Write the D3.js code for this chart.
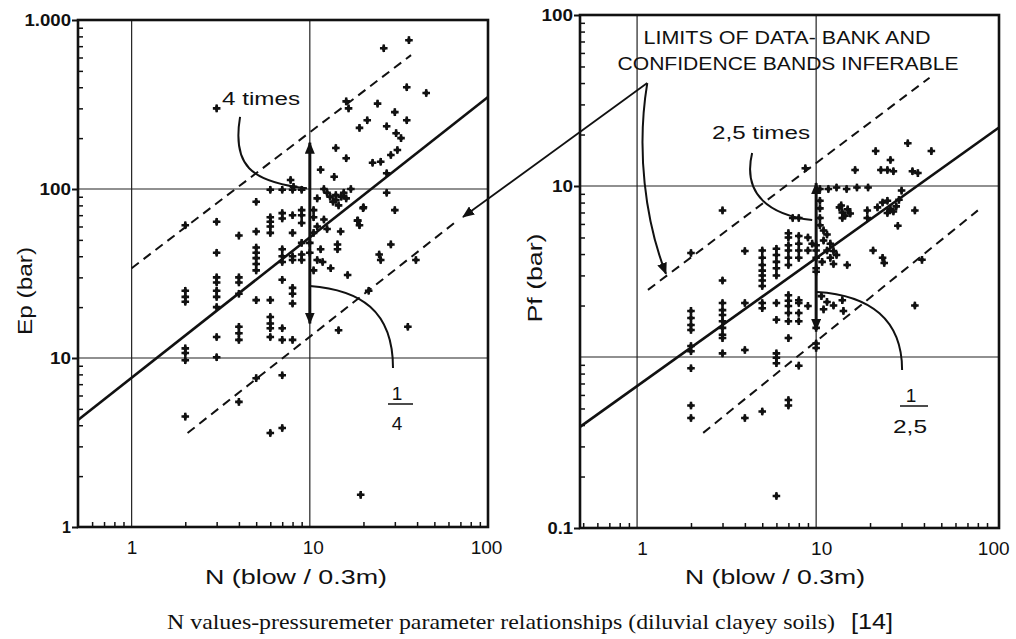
<!DOCTYPE html>
<html><head><meta charset="utf-8">
<script src="https://cdn.jsdelivr.net/npm/d3@7"></script>
<style>body{margin:0;background:#fff}</style>
</head><body>
<script>
// ---------- DATA ----------
const nTicks = [1, 10, 100];
const nTickLabels = ["1", "10", "100"];
const epTicks = [1, 10, 100, 1000];
const epTickLabels = ["1", "10", "100", "1.000"];
const pfTicks = [0.1, 10, 100];
const pfTickLabels = ["0.1", "10", "100"];
const nGrid = [1, 10];
const epGrid = [10, 100];
const pfGrid = [1, 10];

// N (blow/0.3m), Ep (bar)
const epPoints = [
[3,300],[26,680],[36,760],[35,400],[45,370],[16,330],[16.5,300],[24,320],[30,285],[35,255],[21,255],[19,230],[27,235],[30.5,214],[32.5,200],[14,175],[16,152],[22.5,143],[25,145],[28.5,159],[31,170],[11.5,130],[13.7,118],[27,124],[7.8,113],[8.1,103],[6,99],[7,99],[8,99],[9,99],[5,84],[27,95],[30,75],[20,78],[18.5,65],[19,61],
[12.5,95],[13,90],[14,92],[14,86],[15,90],[15.5,95],[16,88],[13.5,84],[17,100],[12,100],[11,88],[14.5,80],
[10.5,75],[10.5,68],[11,60],[10.5,55],[11.5,44],[11,38],[10.5,33],[12,66],[12.5,58],[10,48],[10,42],
[2,61],[2,25],[2,23],[2,21.5],[2,11.4],[2,10.7],[2,9.7],[2,4.5],
[3,64],[3,42],[3,30],[3,28],[3,25],[3,23],[3,20],[3,13.3],[3,10.1],
[4,53],[4,30],[4,28],[4,24],[4,15.3],[4,14],[4,12.8],[4,5.5],
[5,56],[5,45],[5,42],[5,39],[5,36],[5,33],[5,22],[5,7.6],
[6,68],[6,64],[6,60],[6,55],[6,22],[6,17.5],[6,16],[6,15],[6,13.3],[6,3.6],
[7,72],[7,67],[7,44],[7,40],[7,37],[7,29],[7,15],[7,12.8],[7,7.9],[7,3.85],
[8,70],[8,55],[8,40],[8,38],[8,26],[8,24],[8,21],[8,12.8],
[9,75],[9,70],[9,63],[9,48],[9,41],[9,38],
[14.9,56],[14.3,47],[14.3,44],[16.3,31],[13.1,34],[11.8,37],[18.6,65],[19.9,77],[28.5,47],[24.5,41],[25,38],[39.4,38],[21.4,25],[14.5,14.6],[35.5,15.3],[19.3,1.55]
];

// N (blow/0.3m), Pf (bar)
const pfPoints = [
[3,7.2],[3,2.8],[2,4.06],[4,4.17],
[5,4.2],[5,3.8],[5,3.45],[5,3.2],[5,3.0],[5,2.8],[5,2.6],[5,2.07],[5,1.93],[5,0.48],
[6,4.3],[6,3.95],[6,3.6],[6,3.3],[6,3.0],[6,2.07],[6,1.65],[6,1.05],[6,0.99],[6,0.92],[6,0.154],
[7,5.3],[7,5.0],[7,4.5],[7,4.2],[7,3.8],[7,3.45],[7,2.3],[7,2.13],[7,1.99],[7,1.81],[7,1.62],[7,1.29],[7,0.56],[7,0.52],
[8,6.5],[8,5.1],[8,4.6],[8,4.2],[8,3.8],[8,2.15],[8,2.07],[8,1.81],[8,1.62],[8,0.89],
[9,5.0],[9,4.2],[9,1.99],[8.7,12.7],[7.4,6.5],
[10.5,8.2],[10.5,7.4],[10.5,6.5],[10.5,5.9],[10,4.5],[10,4.2],[10,3.8],[10,3.3],[10,3.15],[10,1.48],[10,1.2],[10,1.13],
[10.5,9.6],[11.7,9.6],[13,9.8],[14.8,9.6],[16.9,9.8],[19.5,9.8],
[13.5,7.5],[14,7.0],[14.5,6.7],[15,7.3],[15.5,6.9],[14,6.5],[13.8,7.7],[19.3,7.2],[19.3,6.5],
[22,7.5],[23.5,8.0],[25,8.2],[26,7.3],[27,7.1],[28,7.6],[29,8.3],[30,9.4],[35.6,7.2],[28.6,5.85],[25,6.95],[20.8,4.2],[23.5,3.8],[24,3.55],[39,3.7],[14.9,3.45],[11.5,4.2],[12.5,4.17],[13,3.95],[12,3.8],
[16.5,12.4],[21.5,16],[26,14.2],[32.5,17.8],[44,16],[23,12.4],[25,12.4],[27,12.2],[34.5,12.2],[37,11.9],
[2,1.86],[2,1.69],[2,1.54],[2,1.44],[2,1.16],[2,1.08],[2,0.86],[2,0.52],[2,0.44],
[3,2.07],[3,1.88],[3,1.76],[3,1.62],[3,1.48],[3,1.35],[3,1.29],[3,1.05],
[4,2.07],[4,1.1],[4,0.44],
[10.7,2.27],[11.5,2.1],[11,1.9],[12.5,2.0],[14,2.15],[14.2,1.86],[35.6,2.0],
[11,4.8],[11.5,5.2],[12,4.6],[9.5,4.6],[10.8,3.6],[12.5,3.5],[11,5.5]
];

// regression lines and confidence bands (end points)
const epFit = [[0.5,4.3],[100,350]];
const epUpper = [[1,34],[37,620]];
const epLower = [[2.06,3.6],[66,64]];
const pfFit = [[0.48,0.39],[105,22]];
const pfUpper = [[1.15,2.47],[43,43]];
const pfLower = [[2.34,0.36],[80,7.2]];

// vertical spread arrows [N, low, high]
const epArrow = [10, 16, 188];
const pfArrow = [10, 1.44, 10.4];

// annotation curves (cubic Bezier control points, data coords)
const epTimesCurve = [[4.06,267],[3.66,139],[4.62,110],[9.64,101]];
const epQuarterCurve = [[10,26.7],[19.1,25.3],[29.3,19.2],[29.3,8.73]];
const pfTimesCurve = [[4.39,15.6],[3.86,8.86],[5.53,6.77],[9.5,6.32]];
const pfFracCurve = [[10.1,2.4],[20,2.3],[30.2,1.65],[30.2,0.84]];
const limitsOrigin = [1.14,40];            // right panel
const limitsTargetLeft = [72.4,68.3];      // left panel
const limitsCurve = [[1.14,40],[0.99,16.3],[1.108,6.32],[1.45,3.06]]; // right panel

// ---------- DRAW ----------
const W = 1016, H = 639;
const FONT = "'Liberation Sans', Arial, sans-serif";
const svg = d3.select("body").append("svg").attr("width", W).attr("height", H)
  .style("font-family", FONT);
svg.append("rect").attr("width", W).attr("height", H).attr("fill", "#fff");
const INK = "#111";
const defs = svg.append("defs");
defs.append("marker").attr("id", "ah").attr("viewBox", "0 0 12 10")
  .attr("refX", 11).attr("refY", 5).attr("markerWidth", 12).attr("markerHeight", 10)
  .attr("markerUnits", "userSpaceOnUse").attr("orient", "auto-start-reverse")
  .append("path").attr("d", "M0,0L12,5L0,10Z").attr("fill", INK);

function minorVals(domain) {
  const out = [];
  const lo = Math.floor(Math.log10(domain[0])), hi = Math.ceil(Math.log10(domain[1]));
  for (let k = lo; k < hi; k++) for (let m = 2; m <= 9; m++) {
    const v = m * Math.pow(10, k);
    if (v > domain[0] && v < domain[1]) out.push(v);
  }
  return out;
}

function panel(cfg) {
  const x = d3.scaleLog().domain(cfg.xDomain).range([cfg.x0, cfg.x1]);
  const y = d3.scaleLog().domain(cfg.yDomain).range([cfg.y1, cfg.y0]);
  const g = svg.append("g");
  // grid
  g.selectAll(null).data(cfg.xGrid).join("line")
    .attr("x1", d => x(d)).attr("x2", d => x(d)).attr("y1", cfg.y0).attr("y2", cfg.y1)
    .attr("stroke", "#222").attr("stroke-width", 1.2);
  g.selectAll(null).data(cfg.yGrid).join("line")
    .attr("y1", d => y(d)).attr("y2", d => y(d)).attr("x1", cfg.x0).attr("x2", cfg.x1)
    .attr("stroke", "#222").attr("stroke-width", 1.2);
  // minor ticks inside
  const ym = g.append("g").attr("transform", `translate(${cfg.x0},0)`)
    .call(d3.axisRight(y).tickValues(minorVals(cfg.yDomain)).tickSize(5).tickFormat(""));
  ym.select(".domain").remove();
  ym.selectAll("line").attr("stroke", INK).attr("stroke-width", 1.5);
  const xm = g.append("g").attr("transform", `translate(0,${cfg.y1})`)
    .call(d3.axisTop(x).tickValues(minorVals(cfg.xDomain)).tickSize(5).tickFormat(""));
  xm.select(".domain").remove();
  xm.selectAll("line").attr("stroke", INK).attr("stroke-width", 1.5);

  const line = d3.line().x(d => x(d[0])).y(d => y(d[1]));
  // bands
  [cfg.upper, cfg.lower].forEach(b => g.append("path").attr("d", line(b))
    .attr("fill", "none").attr("stroke", INK).attr("stroke-width", 2).attr("stroke-dasharray", "9,6"));
  // fit
  g.append("path").attr("d", line(cfg.fit)).attr("fill", "none")
    .attr("stroke", INK).attr("stroke-width", 2.6);
  // points
  const cross = d3.symbol().type(d3.symbolCross).size(32);
  const dia = d3.symbol().type(d3.symbolDiamond).size(20);
  const pg = g.selectAll(null).data(cfg.points).join("g")
    .attr("transform", d => `translate(${x(d[0])},${y(d[1])})`);
  pg.append("path").attr("d", cross).attr("fill", INK);
  pg.append("path").attr("d", dia).attr("fill", INK);
  // vertical arrow
  const a = cfg.arrow;
  g.append("line").attr("x1", x(a[0])).attr("x2", x(a[0])).attr("y1", y(a[1])).attr("y2", y(a[2]))
    .attr("stroke", INK).attr("stroke-width", 3)
    .attr("marker-start", "url(#ah)").attr("marker-end", "url(#ah)");
  // frame
  g.append("rect").attr("x", cfg.x0).attr("y", cfg.y0)
    .attr("width", cfg.x1 - cfg.x0).attr("height", cfg.y1 - cfg.y0)
    .attr("fill", "none").attr("stroke", INK).attr("stroke-width", 2.6);
  // x labels
  const xa = g.append("g").attr("transform", `translate(0,${cfg.y1})`)
    .call(d3.axisBottom(x).tickValues(nTicks).tickFormat((d, i) => nTickLabels[i]).tickSize(0).tickPadding(14));
  xa.select(".domain").remove();
  xa.selectAll("text").attr("font-size", 19).attr("font-family", FONT).attr("fill", INK)
    .attr("dx", (d, i) => cfg.xLabelDx[i]);
  // y labels
  const ya = g.append("g").attr("transform", `translate(${cfg.x0},0)`)
    .call(d3.axisLeft(y).tickValues(cfg.yTicks).tickFormat((d, i) => cfg.yLabels[i]).tickSize(6).tickPadding(1));
  ya.select(".domain").remove();
  ya.selectAll("line").attr("stroke", INK).attr("stroke-width", 2);
  ya.selectAll("text").attr("font-size", 16).attr("font-weight", "bold").attr("font-family", FONT)
    .attr("fill", INK)
    .each(function(d, i) {
      const s = cfg.yLabels[i];
      if (s.length > 1) d3.select(this).attr("textLength", s.length * 10.5 - (s.includes(".") ? 6 : 0)).attr("lengthAdjust", "spacingAndGlyphs");
    });
  return { x, y, g };
}

const L = panel({ x0: 78, x1: 488, y0: 20, y1: 527, xDomain: [0.5, 100], yDomain: [1, 1000],
  xGrid: nGrid, yGrid: epGrid, upper: epUpper, lower: epLower, fit: epFit, points: epPoints,
  arrow: epArrow, yTicks: epTicks, yLabels: epTickLabels, xLabelDx: [0, 3, -2] });
const R = panel({ x0: 580, x1: 999, y0: 15, y1: 528, xDomain: [0.48, 105], yDomain: [0.1, 100],
  xGrid: nGrid, yGrid: pfGrid, upper: pfUpper, lower: pfLower, fit: pfFit, points: pfPoints,
  arrow: pfArrow, yTicks: pfTicks, yLabels: pfTickLabels, xLabelDx: [5, 5, -2] });

function bez(P, c) {
  const p = c.map(d => [P.x(d[0]), P.y(d[1])]);
  return `M${p[0]}C${p[1]} ${p[2]} ${p[3]}`;
}
const curveStyle = s => s.attr("fill", "none").attr("stroke", INK).attr("stroke-width", 2);
svg.append("path").attr("d", bez(L, epTimesCurve)).call(curveStyle);
svg.append("path").attr("d", bez(L, epQuarterCurve)).call(curveStyle);
svg.append("path").attr("d", bez(R, pfTimesCurve)).call(curveStyle);
svg.append("path").attr("d", bez(R, pfFracCurve)).call(curveStyle);
svg.append("path").attr("d", bez(R, limitsCurve)).call(curveStyle).attr("marker-end", "url(#ah)");
svg.append("line")
  .attr("x1", R.x(limitsOrigin[0])).attr("y1", R.y(limitsOrigin[1]))
  .attr("x2", L.x(limitsTargetLeft[0])).attr("y2", L.y(limitsTargetLeft[1]))
  .attr("stroke", INK).attr("stroke-width", 1.8).attr("marker-end", "url(#ah)");

// ---------- TEXT ----------
function txt(str, x, y, size, len, opts = {}) {
  const t = svg.append("text").attr("x", x).attr("y", y).attr("font-size", size)
    .attr("fill", INK).attr("text-anchor", opts.anchor || "middle").text(str);
  if (len) t.attr("textLength", len).attr("lengthAdjust", "spacingAndGlyphs");
  if (opts.family) t.attr("font-family", opts.family);
  if (opts.rotate) t.attr("transform", `rotate(-90,${x},${y})`);
  return t;
}
txt("4 times", 261, 105, 18, 78);
txt("2,5 times", 761, 139, 18, 98);
txt("LIMITS OF DATA- BANK AND", 787, 44, 18, 287);
txt("CONFIDENCE BANDS INFERABLE", 788, 70, 18, 341);
// fractions
txt("1", 397, 400, 19);
svg.append("line").attr("x1", 388).attr("x2", 413).attr("y1", 404).attr("y2", 404).attr("stroke", INK).attr("stroke-width", 1.5);
txt("4", 397, 430, 19);
txt("1", 911, 402, 19);
svg.append("line").attr("x1", 900).attr("x2", 928).attr("y1", 406).attr("y2", 406).attr("stroke", INK).attr("stroke-width", 1.5);
txt("2,5", 910, 433, 19, 34);
// axis titles
txt("Ep (bar)", 32, 291, 20, 88, { rotate: true });
txt("Pf (bar)", 542, 278, 20, 89, { rotate: true });
txt("N (blow / 0.3m)", 296, 584, 21, 182);
txt("N (blow / 0.3m)", 775, 584, 21, 180);
// caption
txt("N values-pressuremeter parameter relationships (diluvial clayey soils)", 167, 629, 22, 668,
  { anchor: "start", family: "'Liberation Serif','Times New Roman',serif" });
txt("[14]", 851, 629, 22, 42, { anchor: "start" });
</script>
</body></html>
